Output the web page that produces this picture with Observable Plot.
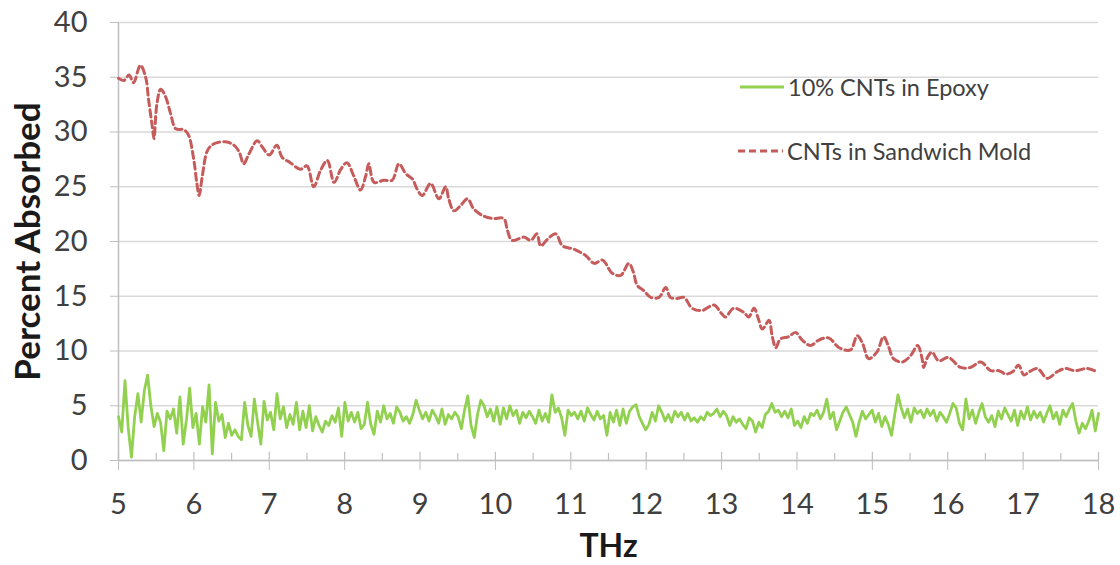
<!DOCTYPE html>
<html><head><meta charset="utf-8">
<script src="https://cdn.jsdelivr.net/npm/d3@7"></script>
<script src="https://cdn.jsdelivr.net/npm/@observablehq/plot@0.6"></script>
<style>
body{margin:0;background:#fff;}
#wrap{position:relative;width:1120px;height:565px;font-family:Lato,sans-serif;}
.leg{position:absolute;display:flex;align-items:center;height:26px;font-size:23.5px;color:#404040;white-space:nowrap;}
.leg svg{display:block;margin-right:2px;}
</style></head><body><div id="wrap"></div>
<script>
const seriesNames = ["10% CNTs in Epoxy", "CNTs in Sandwich Mold"];
const seriesColors = ["#92d050", "#c65b5b"];
const xTicks = [5,6,7,8,9,10,11,12,13,14,15,16,17,18];
const xMinorTicks = [5.5,6.5,7.5,8.5,9.5,10.5,11.5,12.5,13.5,14.5,15.5,16.5,17.5];
const yTicks = [0,5,10,15,20,25,30,35,40];

// CNTs in Sandwich Mold (frequency THz, percent absorbed)
const moldFreq = [5.00,5.07,5.14,5.20,5.29,5.36,5.40,5.45,5.47,5.51,5.56,5.62,5.69,5.76,5.87,5.93,6.00,6.04,6.07,6.11,6.18,6.26,6.42,6.53,6.60,6.66,6.73,6.84,6.91,7.00,7.10,7.17,7.28,7.41,7.50,7.59,7.68,7.77,7.86,7.95,8.03,8.12,8.21,8.28,8.32,8.39,8.52,8.63,8.72,8.81,8.90,8.96,9.03,9.14,9.25,9.34,9.38,9.45,9.54,9.63,9.71,9.82,9.96,10.11,10.16,10.22,10.38,10.47,10.55,10.60,10.69,10.80,10.89,11.04,11.20,11.31,11.42,11.55,11.66,11.77,11.83,11.88,11.97,12.06,12.17,12.26,12.32,12.41,12.50,12.61,12.74,12.90,12.99,13.05,13.16,13.30,13.36,13.43,13.49,13.54,13.63,13.67,13.72,13.78,13.89,13.98,14.07,14.18,14.29,14.42,14.56,14.71,14.80,14.87,14.95,15.06,15.15,15.22,15.28,15.40,15.51,15.60,15.66,15.68,15.73,15.79,15.88,16.01,16.17,16.30,16.44,16.57,16.68,16.77,16.86,16.94,17.01,17.08,17.19,17.32,17.45,17.56,17.69,17.85,17.98];
const moldAbs = [34.9,34.7,35.2,34.5,36.1,35.0,32.9,30.4,29.4,32.6,33.9,33.3,31.7,30.3,30.2,29.7,27.4,25.3,24.2,25.9,28.3,28.9,29.1,28.8,28.2,27.1,28.0,29.2,28.6,27.9,28.8,27.7,27.2,26.6,26.9,25.0,26.5,27.4,25.4,26.6,27.2,26.0,24.7,26.0,27.1,25.4,25.6,25.6,27.1,26.2,25.7,24.8,24.2,25.3,23.9,25.0,23.9,22.8,23.3,23.9,23.0,22.4,22.1,22.1,21.0,20.1,20.4,20.1,20.7,19.6,20.2,20.7,19.6,19.3,18.7,18.0,18.3,17.1,16.9,18.0,17.2,16.0,15.5,14.9,14.9,15.8,14.9,14.8,14.9,13.9,13.7,14.2,13.5,13.1,13.9,13.5,13.1,13.9,12.9,12.0,12.8,11.4,10.3,11.1,11.3,11.7,11.0,10.5,11.0,11.2,10.3,10.1,11.4,10.7,9.3,9.9,11.3,10.3,9.3,9.0,9.6,10.5,9.3,8.5,9.4,9.9,9.1,9.4,8.5,8.5,9.0,8.2,8.2,7.9,8.1,8.7,7.8,8.1,8.4,7.5,8.1,8.4,8.2,8.4,8.1];

// 10% CNTs in Epoxy: evenly sampled from 5 to 18 THz
const epoxyStart = 5, epoxyEnd = 18;
const epoxyAbs = [
4.0,2.6,7.3,3.0,0.3,4.0,6.1,3.5,6.4,7.8,
5.0,3.1,4.3,3.5,0.9,4.5,3.8,4.7,2.5,5.8,
1.5,3.7,6.6,3.0,4.3,1.5,4.9,3.5,6.9,0.6,
5.3,3.6,4.2,2.1,3.4,2.3,2.8,2.2,1.9,5.3,
3.2,2.2,5.6,3.5,1.5,5.4,3.7,4.4,2.8,6.1,
3.8,4.9,3.0,4.2,3.3,5.3,2.8,4.5,3.0,5.0,
2.7,4.0,3.2,2.6,3.6,3.2,4.1,3.5,4.8,2.2,
5.3,3.6,4.4,3.5,4.4,2.9,3.3,5.3,3.3,2.4,
4.5,3.5,5.0,3.8,4.3,3.4,4.9,4.4,3.6,4.0,
3.4,4.2,5.5,4.6,3.8,4.4,3.6,4.6,4.1,3.4,
4.7,3.3,
4.2,3.8,4.4,4.0,2.9,4.6,5.9,3.2,2.1,4.2,
5.5,5.0,4.0,4.7,3.6,4.9,3.3,4.8,3.8,5.0,
4.1,4.6,3.4,4.4,3.9,4.5,4.0,3.4,4.6,3.6,
4.3,3.5,6.0,4.4,4.8,3.9,2.3,4.6,4.1,4.4,
3.8,4.5,3.6,4.8,4.2,3.7,4.5,3.8,4.1,2.3,
4.4,3.5,4.6,3.2,4.7,3.4,4.5,4.9,5.1,4.0,
3.4,2.8,3.3,4.4,3.6,5.0,4.4,3.6,4.2,3.5,
4.5,4.0,4.4,3.7,4.3,3.6,3.9,3.5,4.0,3.7,
4.4,4.1,4.3,4.7,4.0,4.5,4.1,3.2,4.0,3.5,
3.8,3.3,2.9,3.9,3.6,2.6,3.5,3.0,4.2,4.5,
5.2,4.4,
4.6,4.0,4.5,3.9,4.7,3.2,3.6,3.0,4.0,3.4,
4.3,4.1,4.6,3.8,4.4,5.6,3.8,4.4,2.8,3.6,
4.4,4.9,4.2,3.5,2.2,3.5,4.5,3.8,4.2,4.6,
3.5,4.3,3.1,4.0,3.3,2.3,4.2,6.0,4.8,3.9,
4.7,3.5,4.8,4.3,4.6,3.9,4.7,4.1,4.6,3.6,
4.4,4.0,3.5,4.3,5.2,4.8,3.4,2.8,5.6,3.8,
4.6,3.4,4.4,5.2,4.0,3.5,4.1,3.1,4.5,3.8,
4.8,4.2,3.6,4.6,3.2,4.5,3.8,4.9,3.7,4.5,
3.9,4.4,3.5,4.3,5.0,3.8,4.4,3.3,4.6,4.0,
4.7,5.2,3.6,2.5,3.4,2.9,3.6,4.6,2.7,4.3
];

const epoxy = epoxyAbs.map((v, i) => ({f: epoxyStart + i * (epoxyEnd - epoxyStart) / (epoxyAbs.length - 1), v}));
const mold = moldFreq.map((f, i) => ({f, v: moldAbs[i]}));

const axisGray = "#bfbfbf";
const chart = Plot.plot({
  width: 1120, height: 565,
  marginLeft: 118, marginRight: 22, marginTop: 22, marginBottom: 105,
  style: {fontFamily: "Lato, sans-serif", background: "#fff", color: "#404040", overflow: "visible"},
  x: {domain: [5, 18]},
  y: {domain: [0, 40]},
  marks: [
    Plot.gridY(yTicks, {stroke: "#d9d9d9", strokeOpacity: 1, strokeWidth: 1.5}),
    Plot.ruleX(xMinorTicks, {y1: 0, y2: 0.65, stroke: axisGray, strokeWidth: 1.2}),
    Plot.ruleX(xTicks, {y1: 0, y2: 0.75, stroke: axisGray, strokeWidth: 1.2}),
    Plot.axisX(xTicks, {tickSize: 10, tickPadding: 23, fontSize: 29, stroke: axisGray, fill: "#404040", label: null, tickFormat: d => d}),
    Plot.axisY(yTicks, {tickSize: 8, tickPadding: 23, fontSize: 29, stroke: axisGray, fill: "#404040", label: null}),
    Plot.ruleY([0], {stroke: axisGray, strokeWidth: 1.5}),
    Plot.ruleX([5], {y1: 0, y2: 40, stroke: axisGray, strokeWidth: 1.5}),
    Plot.line(epoxy, {x: "f", y: "v", stroke: seriesColors[0], strokeWidth: 2.8}),
    Plot.line(mold, {x: "f", y: "v", stroke: seriesColors[1], strokeWidth: 3, strokeDasharray: "7,4", curve: "catmull-rom"}),
    Plot.text(["Percent Absorbed"], {frameAnchor: "left", textAnchor: "middle", lineAnchor: "middle", rotate: -90, dx: -90, fontSize: 35, fontWeight: "bold", fill: "#1a1a1a"}),
    Plot.text(["THz"], {frameAnchor: "bottom", textAnchor: "middle", lineAnchor: "middle", dy: 86, fontSize: 32, fontWeight: "bold", fill: "#1a1a1a"})
  ]
});
const wrap = document.getElementById("wrap");
wrap.appendChild(chart);

// legend
const legPos = [{left: 740, top: 74, dash: null}, {left: 738, top: 138, dash: "7,4"}];
seriesNames.forEach((name, i) => {
  const d = document.createElement("div");
  d.className = "leg";
  d.style.left = legPos[i].left + "px";
  d.style.top = legPos[i].top + "px";
  const w = i === 0 ? 46 : 47;
  d.innerHTML = `<svg width="${w}" height="26"><line x1="0" y1="13" x2="${w-2}" y2="13" stroke="${seriesColors[i]}" stroke-width="${i===0?2.8:3}" ${legPos[i].dash ? `stroke-dasharray="${legPos[i].dash}"` : ""}/></svg><span>${name}</span>`;
  wrap.appendChild(d);
});
</script>
</body></html>
